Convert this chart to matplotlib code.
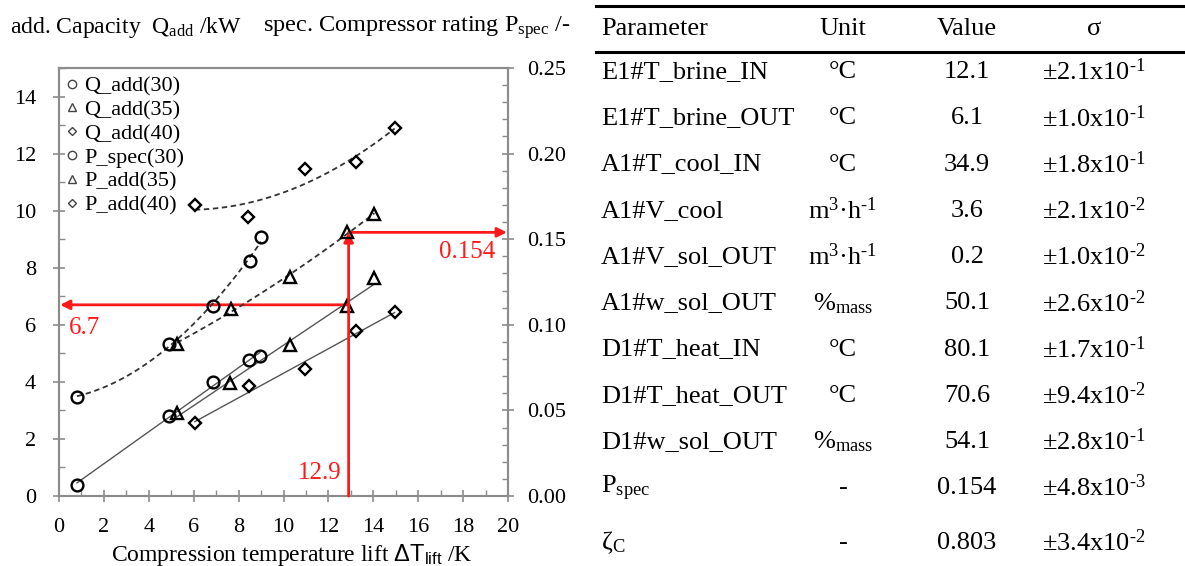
import numpy as np
import matplotlib
matplotlib.use('Agg')
import matplotlib.pyplot as plt
from matplotlib.lines import Line2D

plt.rcParams['font.family'] = ['Liberation Serif', 'DejaVu Serif']
plt.rcParams['mathtext.fontset'] = 'custom'
plt.rcParams['mathtext.rm'] = 'Liberation Serif'
plt.rcParams['mathtext.it'] = 'Liberation Serif:italic'
plt.rcParams['mathtext.sf'] = 'Liberation Sans'

# ---------------- data ----------------
x_q30 = [0.8, 4.9, 6.85, 8.45, 8.95]
q_add_30 = [0.4, 2.8, 4.0, 4.75, 4.9]
x_q35 = [5.25, 7.6, 10.3, 12.85, 14.05]
q_add_35 = [2.9, 3.95, 5.3, 6.65, 7.65]
x_q40 = [6.05, 8.45, 10.95, 13.25, 14.95]
q_add_40 = [2.55, 3.85, 4.45, 5.78, 6.45]

x_p30 = [0.8, 4.9, 6.85, 8.5, 9.0]
p_spec_30 = [0.058, 0.089, 0.111, 0.137, 0.151]
x_p35 = [5.25, 7.65, 10.3, 12.85, 14.05]
p_add_35 = [0.089, 0.109, 0.128, 0.154, 0.165]
x_p40 = [6.05, 8.4, 10.95, 13.25, 14.95]
p_add_40 = [0.170, 0.163, 0.191, 0.195, 0.215]

legend_labels = ['Q_add(30)', 'Q_add(35)', 'Q_add(40)', 'P_spec(30)', 'P_add(35)', 'P_add(40)']

q_design = 6.7
dt_design = 12.9
p_design = 0.154

x_ticks = [0, 2, 4, 6, 8, 10, 12, 14, 16, 18, 20]
y_ticks = [0, 2, 4, 6, 8, 10, 12, 14]
y2_ticks = [0.00, 0.05, 0.10, 0.15, 0.20, 0.25]

tbl_header = ['Parameter', 'Unit', 'Value', 'σ']
tbl_param = ['E1#T_brine_IN', 'E1#T_brine_OUT', 'A1#T_cool_IN', 'A1#V_cool', 'A1#V_sol_OUT',
             'A1#w_sol_OUT', 'D1#T_heat_IN', 'D1#T_heat_OUT', 'D1#w_sol_OUT',
             r'P$_{\mathrm{spec}}$', r'ζ$_{\mathrm{C}}$']
tbl_unit = ['°C', '°C', '°C', r'm$^{\text{3}}$·h$^{\text{-1}}$', r'm$^{\text{3}}$·h$^{\text{-1}}$',
            r'%$_{\mathrm{mass}}$', '°C', '°C', r'%$_{\mathrm{mass}}$', '-', '-']
tbl_value = ['12.1', '6.1', '34.9', '3.6', '0.2', '50.1', '80.1', '70.6', '54.1', '0.154', '0.803']
tbl_sigma = [r'±2.1x10$^{\text{-1}}$', r'±1.0x10$^{\text{-1}}$', r'±1.8x10$^{\text{-1}}$',
             r'±2.1x10$^{\text{-2}}$', r'±1.0x10$^{\text{-2}}$', r'±2.6x10$^{\text{-2}}$',
             r'±1.7x10$^{\text{-1}}$', r'±9.4x10$^{\text{-2}}$', r'±2.8x10$^{\text{-1}}$',
             r'±4.8x10$^{\text{-3}}$', r'±3.4x10$^{\text{-2}}$']

# ---------------- figure ----------------
W, H = 1185, 566
fig = plt.figure(figsize=(W / 100, H / 100), dpi=100)

def fx(px):
    return px / W

def fy(py):
    return 1 - py / H

ax = fig.add_axes([fx(59), fy(496), fx(508) - fx(59), fy(68) - fy(496)])
ax2 = ax.twinx()

line_col = '#555555'
dash_col = '#333333'

def fit_line(axis, xs, ys, deg, dashed):
    c = np.polyfit(xs, ys, deg)
    xx = np.linspace(min(xs), max(xs), 100)
    if dashed:
        axis.plot(xx, np.polyval(c, xx), color=dash_col, lw=1.3, ls=(0, (3, 2)), zorder=2)
    else:
        axis.plot(xx, np.polyval(c, xx), color=line_col, lw=1.0, zorder=2)

fit_line(ax, x_q30, q_add_30, 1, False)
fit_line(ax, x_q35, q_add_35, 1, False)
fit_line(ax, x_q40, q_add_40, 1, False)
fit_line(ax2, x_p30, p_spec_30, 2, True)
fit_line(ax2, x_p35, p_add_35, 2, True)
fit_line(ax2, x_p40, p_add_40, 2, True)

mk = dict(ls='none', mfc='none', mec='black', mew=1.7, zorder=4)
ax.plot(x_q30, q_add_30, marker='o', ms=8.5, **mk)
ax.plot(x_q35, q_add_35, marker='^', ms=8.5, **mk)
ax.plot(x_q40, q_add_40, marker='D', ms=6.5, **mk)
ax2.plot(x_p30, p_spec_30, marker='o', ms=8.5, **mk)
ax2.plot(x_p35, p_add_35, marker='^', ms=8.5, **mk)
ax2.plot(x_p40, p_add_40, marker='D', ms=6.5, **mk)

# red annotations
red = '#ff1a1a'
ap = dict(arrowstyle='-|>', color=red, lw=2.0, mutation_scale=14, shrinkA=0, shrinkB=0)
ax.annotate('', xy=(0.05, q_design), xytext=(dt_design, q_design), arrowprops=ap)
ax2.annotate('', xy=(dt_design, p_design), xytext=(dt_design, 0), arrowprops=ap)
ax2.annotate('', xy=(19.95, p_design), xytext=(dt_design, p_design), arrowprops=ap)
ax.text(0.45, 5.9, f'{q_design}', color=red, fontsize=18, ha='left', va='center')
ax2.text(19.45, 0.1425, f'{p_design}', color=red, fontsize=18, ha='right', va='center')
ax.text(12.6, 0.8, f'{dt_design}', color=red, fontsize=18, ha='right', va='center')

# legend
handles = [Line2D([], [], ls='none', marker=m, ms=s, mfc='none', mec='#444444', mew=1.0)
           for m, s in zip(['o', '^', 'D', 'o', '^', 'D'], [6, 6, 4.5, 6, 6, 4.5])]
ax2.legend(handles, legend_labels, loc='upper left', frameon=False, fontsize=16,
           handlelength=0.5, handletextpad=0.3, labelspacing=0.15,
           borderaxespad=0.2, borderpad=0.15)

# axes styling
spc = '#8c8c8c'
for a in (ax, ax2):
    for s in a.spines.values():
        s.set_color(spc)
        s.set_linewidth(1.5)

ax.set_xlim(0, 20)
ax.set_ylim(0, 15)
ax2.set_ylim(0, 0.25)
ax.set_xticks(x_ticks)
ax.set_xticks(range(1, 20, 2), minor=True)
ax.set_yticks(y_ticks)
ax.set_yticks(range(1, 16, 2), minor=True)
ax2.set_yticks(y2_ticks)
ax2.set_yticklabels([f'{v:.2f}' for v in y2_ticks])
ax2.set_yticks(np.arange(0, 0.2501, 0.01), minor=True)

ax.tick_params(axis='x', which='major', direction='inout', length=9, width=1.2, color=spc,
               labelsize=16, pad=11)
ax.tick_params(axis='y', which='major', direction='inout', length=9, width=1.2, color=spc,
               labelsize=16, pad=12)
ax.tick_params(axis='both', which='minor', direction='in', length=4.5, width=1.0, color=spc)
ax2.tick_params(axis='y', which='major', direction='inout', length=9, width=1.2, color=spc,
                labelsize=16, pad=9)
ax2.tick_params(axis='y', which='minor', direction='in', length=4, width=1.0, color=spc)

# axis titles
fig.text(fx(10), fy(28), r'add. Capacity  Q$_{\mathrm{add}}$ /kW', fontsize=17, ha='left', va='center')
fig.text(fx(263), fy(28), r'spec. Compressor rating P$_{\mathrm{spec}}$ /-', fontsize=17.5,
         ha='left', va='center')
fig.text(fx(292), fy(555), r'Compression temperature lift $\mathsf{ΔT_{lift}}$ /K', fontsize=17,
         ha='center', va='center')

# ---------------- table ----------------
fig.add_artist(Line2D([fx(596), 1], [fy(5.5), fy(5.5)], transform=fig.transFigure, color='black', lw=2.2))
fig.add_artist(Line2D([fx(596), 1], [fy(52), fy(52)], transform=fig.transFigure, color='black', lw=2.2))

col_x = [601, 843, 967, 1094]
col_ha = ['left', 'center', 'center', 'center']
tfs = 19
for j, h in enumerate(tbl_header):
    fig.text(fx(col_x[j]), fy(29), h, fontsize=tfs, ha=col_ha[j], va='center')

row_y = [72 + 46.25 * i for i in range(9)] + [488, 543]
for i in range(len(tbl_param)):
    for j, txt in enumerate([tbl_param[i], tbl_unit[i], tbl_value[i], tbl_sigma[i]]):
        fig.text(fx(col_x[j]), fy(row_y[i]), txt, fontsize=tfs, ha=col_ha[j], va='center')

fig.savefig('out.png', dpi=100)
